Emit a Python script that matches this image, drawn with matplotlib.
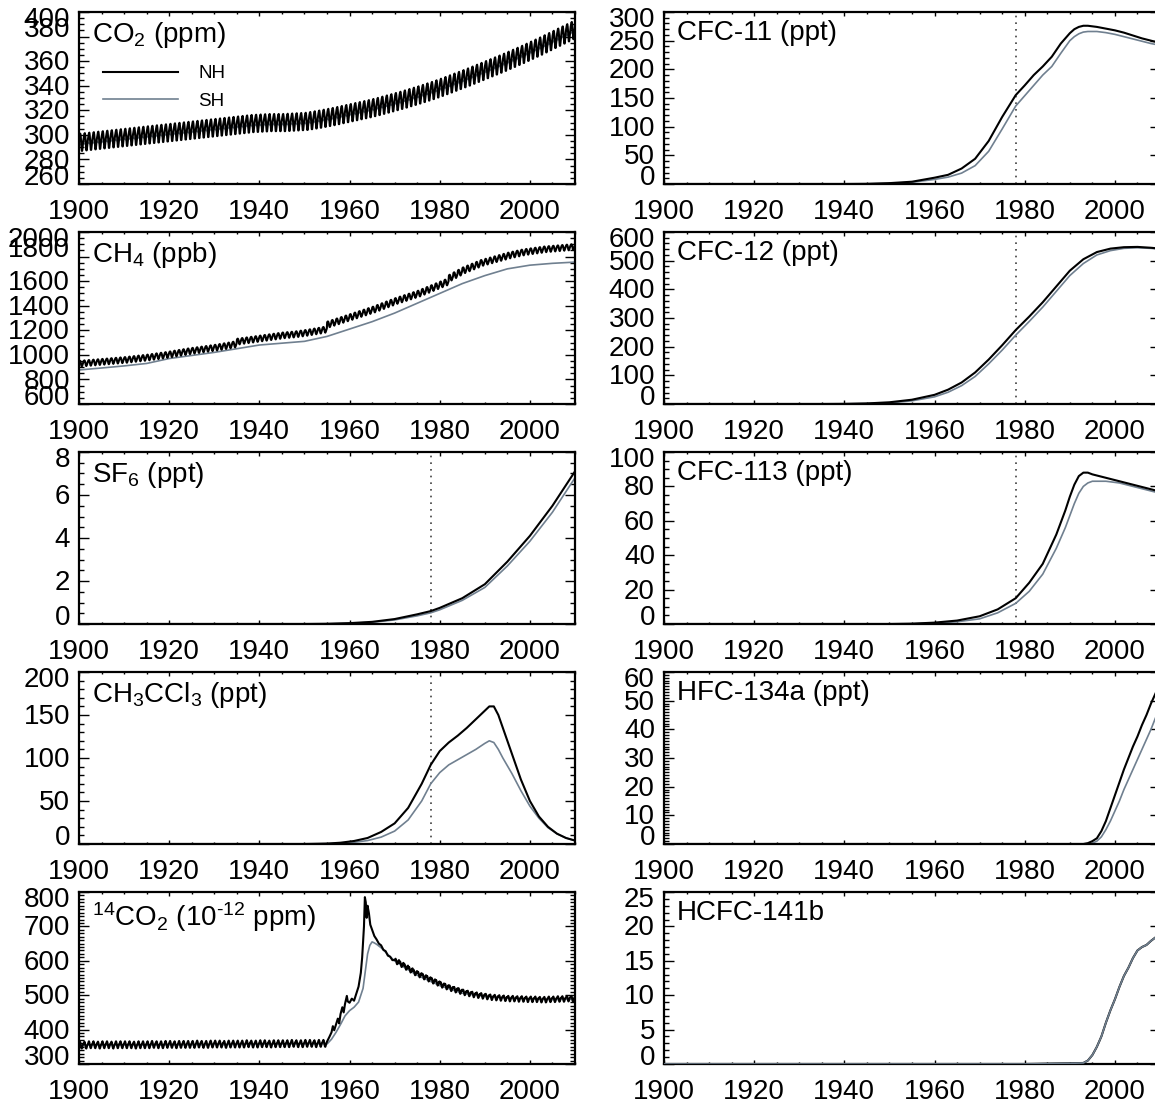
import numpy as np
import matplotlib
matplotlib.use('Agg')
import matplotlib.pyplot as plt
from matplotlib.ticker import MultipleLocator
from matplotlib.transforms import offset_copy

plt.rcParams['font.family'] = ['Liberation Sans', 'DejaVu Sans']
plt.rcParams['mathtext.fontset'] = 'custom'
plt.rcParams['mathtext.rm'] = 'Liberation Sans'
plt.rcParams['mathtext.it'] = 'Liberation Sans:italic'
plt.rcParams['mathtext.bf'] = 'Liberation Sans:bold'
plt.rcParams['mathtext.default'] = 'regular'

NH_COLOR = 'black'
SH_COLOR = '#708090'

# ---------------- data ----------------
# CO2 (ppm): NH annual means 1900-2010 + monthly seasonal anomaly
co2_first_year = 1900
co2_nh_annual = [
    294.0, 294.4, 294.8, 295.2, 295.6, 296.0, 296.4, 296.8, 297.2, 297.6,
    298.0, 298.4, 298.8, 299.2, 299.6, 300.0, 300.4, 300.8, 301.2, 301.6,
    302.0, 302.4, 302.8, 303.2, 303.6, 304.0, 304.4, 304.8, 305.2, 305.6,
    306.0, 306.4, 306.8, 307.2, 307.6, 308.0, 308.4, 308.8, 309.2, 309.4,
    309.6, 309.8, 310.0, 310.0, 310.0, 310.0, 310.2, 310.4, 310.6, 310.8,
    311.0, 311.6, 312.2, 312.8, 313.5, 314.2, 314.9, 315.7, 316.5, 317.3,
    318.1, 318.9, 319.7, 320.5, 321.3, 322.2, 323.1, 324.1, 325.1, 326.1,
    327.1, 328.1, 329.2, 330.3, 331.4, 332.5, 333.7, 334.9, 336.1, 337.4,
    338.7, 340.1, 341.5, 342.9, 344.3, 345.7, 347.1, 348.6, 350.1, 351.6,
    353.1, 354.6, 356.1, 357.6, 359.1, 360.7, 362.3, 363.9, 365.5, 367.2,
    368.9, 370.6, 372.3, 374.1, 375.9, 377.7, 379.5, 381.3, 383.1, 384.9, 386.7]
co2_nh_cycle = [3.0, 5.0, 6.5, 7.0, 5.0, 1.0, -4.0, -7.0, -7.0, -4.0, -1.0, 1.5]
co2_sh_annual = [v - 1.5 for v in co2_nh_annual]
co2_sh_cycle = [0.5, 0.3, 0.0, -0.3, -0.5, -0.6, -0.5, -0.3, 0.0, 0.3, 0.5, 0.6]

# CH4 (ppb)
ch4_first_year = 1900
ch4_nh_annual = [
    930, 933, 936, 939, 942, 945, 948, 951, 954, 957,
    960, 964, 968, 972, 976, 980, 985, 990, 995, 1000,
    1006, 1012, 1018, 1024, 1030, 1035, 1040, 1045, 1050, 1055,
    1060, 1066, 1072, 1078, 1085, 1110, 1115, 1120, 1125, 1130,
    1135, 1140, 1145, 1150, 1155, 1160, 1163, 1166, 1170, 1175,
    1180, 1186, 1192, 1198, 1205, 1250, 1262, 1274, 1286, 1298,
    1310, 1322, 1334, 1346, 1358, 1370, 1384, 1398, 1412, 1426,
    1440, 1452, 1464, 1476, 1488, 1500, 1515, 1530, 1545, 1560,
    1575, 1590, 1630, 1650, 1670, 1690, 1705, 1720, 1735, 1750,
    1760, 1770, 1780, 1790, 1800, 1810, 1818, 1826, 1834, 1840,
    1845, 1850, 1855, 1860, 1863, 1866, 1869, 1872, 1875, 1878, 1882]
ch4_nh_cycle = [15, 20, 22, 18, 8, -8, -20, -24, -18, -8, 2, 10]
ch4_sh_years = [1900, 1905, 1910, 1915, 1920, 1925, 1930, 1935, 1940, 1945, 1950, 1955,
                1960, 1965, 1970, 1975, 1980, 1985, 1990, 1995, 2000, 2005, 2010]
ch4_sh = [877, 893, 910, 930, 970, 995, 1020, 1050, 1080, 1095, 1110, 1150,
          1210, 1270, 1340, 1420, 1500, 1580, 1645, 1700, 1730, 1745, 1755]

# SF6 (ppt)
sf6_years = [1900, 1950, 1955, 1960, 1965, 1970, 1975, 1978, 1980, 1985, 1990, 1995, 2000, 2005, 2010]
sf6_nh = [0, 0, 0.01, 0.04, 0.1, 0.23, 0.45, 0.6, 0.75, 1.2, 1.85, 2.9, 4.1, 5.5, 7.1]
sf6_sh = [0, 0, 0.005, 0.03, 0.08, 0.19, 0.38, 0.52, 0.66, 1.1, 1.7, 2.7, 3.85, 5.2, 6.8]

# CH3CCl3 (ppt)
mc_years = [1900, 1950, 1955, 1958, 1961, 1964, 1967, 1970, 1973, 1976, 1978, 1980, 1982,
            1984, 1986, 1988, 1990, 1991, 1992, 1993, 1994, 1996, 1998, 2000, 2002, 2004,
            2006, 2008, 2010]
mc_nh = [0, 0, 0.5, 1.5, 3.5, 7, 14, 24, 42, 70, 92, 108, 118, 126, 135, 145, 155, 160,
         160, 150, 135, 105, 75, 50, 32, 20, 12, 7, 4]
mc_sh = [0, 0, 0.3, 0.8, 2, 4, 8, 15, 28, 50, 70, 83, 92, 98, 104, 110, 117, 120, 118,
         110, 100, 82, 62, 44, 30, 19, 12, 7, 4]

# 14CO2 (1e-12 ppm)
c14_first_year = 1900
c14_pre_annual = [
    355, 355, 356, 356, 355, 356, 356, 355, 356, 356,
    356, 356, 355, 356, 356, 356, 357, 356, 356, 357,
    357, 356, 357, 357, 357, 357, 358, 357, 357, 358,
    358, 358, 357, 358, 358, 358, 358, 359, 358, 358,
    359, 359, 358, 359, 359, 359, 359, 360, 359, 359,
    360, 360, 359, 360, 360]
c14_pre_cycle = [4, 8, 10, 7, 2, -4, -9, -10, -7, -2, 1, 3]
c14_sh_pre_cycle = [1, 2, 2, 1, 0, -1, -2, -2, -1, 0, 1, 1]
c14_nh_bomb_t = [1955.0, 1955.5, 1956.0, 1956.3, 1956.6, 1957.0, 1957.4, 1957.7, 1958.0,
                 1958.4, 1958.7, 1959.0, 1959.4, 1959.6, 1960.0, 1960.5, 1961.0, 1961.5,
                 1962.0, 1962.5, 1962.8, 1963.2, 1963.4, 1963.6, 1963.8, 1964.0, 1964.3,
                 1964.6, 1965.0, 1965.5, 1966.0, 1966.5, 1967.0, 1967.5, 1968.0, 1968.5,
                 1969.0, 1969.5]
c14_nh_bomb_v = [365, 378, 392, 410, 398, 415, 432, 418, 445, 465, 450, 475, 498, 482,
                 478, 490, 484, 505, 525, 565, 610, 700, 785, 770, 725, 760, 738, 705,
                 690, 672, 662, 650, 645, 632, 628, 615, 612, 602]
c14_post_first_year = 1970
c14_post_annual = [598, 590, 582, 574, 566, 560, 554, 548, 542, 536,
                   530, 525, 520, 516, 512, 508, 505, 502, 500, 498,
                   496, 494, 493, 492, 491, 490, 490, 489, 489, 488,
                   488, 488, 487, 487, 488, 488, 489, 489, 490, 490, 490]
c14_post_cycle = [4, 7, 8, 5, 0, -5, -8, -7, -3, 1, 3, 4]
c14_sh_t = [1955, 1956, 1957, 1958, 1959, 1960, 1961, 1962, 1963, 1963.5, 1964, 1964.5,
            1965, 1965.5, 1966, 1967, 1968, 1969, 1970, 1972, 1975, 1980, 1985, 1990,
            1995, 2000, 2005, 2010]
c14_sh_v = [358, 372, 392, 415, 440, 455, 465, 480, 520, 570, 620, 645, 655, 652, 648,
            638, 625, 612, 600, 582, 558, 528, 506, 496, 491, 489, 487, 489]

# CFC-11 (ppt)
cfc11_years = [1900, 1940, 1945, 1950, 1955, 1960, 1963, 1966, 1969, 1972, 1975, 1978,
               1980, 1982, 1984, 1986, 1988, 1990, 1991, 1992, 1993, 1994, 1996, 1998,
               2000, 2002, 2004, 2006, 2008, 2010]
cfc11_nh = [0, 0, 0.3, 1.5, 4, 11, 16, 27, 44, 75, 117, 155, 172, 190, 205, 222, 245,
            263, 270, 274, 276, 276, 274, 271, 268, 264, 259, 254, 250, 246]
cfc11_sh = [0, 0, 0.2, 1, 3, 8, 12, 19, 32, 57, 96, 136, 154, 172, 190, 205, 228, 250,
            257, 262, 265, 266, 266, 264, 261, 257, 253, 249, 245, 242]

# CFC-12 (ppt)
cfc12_years = [1900, 1935, 1940, 1945, 1950, 1955, 1960, 1963, 1966, 1969, 1972, 1975,
               1978, 1981, 1984, 1987, 1990, 1993, 1996, 1999, 2002, 2005, 2008, 2010]
cfc12_nh = [0, 0, 0.5, 2, 6, 15, 32, 50, 75, 110, 155, 205, 258, 305, 355, 410, 465,
            505, 530, 542, 547, 548, 545, 542]
cfc12_sh = [0, 0, 0.3, 1.5, 4, 11, 25, 41, 64, 96, 140, 188, 240, 288, 338, 393, 448,
            490, 520, 535, 543, 545, 543, 540]

# CFC-113 (ppt)
cfc113_years = [1900, 1950, 1955, 1960, 1965, 1970, 1974, 1978, 1981, 1984, 1987, 1989,
                1990, 1991, 1992, 1993, 1994, 1995, 1998, 2001, 2004, 2007, 2010]
cfc113_nh = [0, 0, 0.2, 0.8, 2, 4.5, 8.5, 15, 24, 35, 52, 66, 74, 81, 86, 88, 88, 87,
             85, 83, 81, 79, 77]
cfc113_sh = [0, 0, 0.1, 0.5, 1.3, 3, 6.5, 12, 19, 29, 44, 56, 63, 70, 76, 80, 82, 83,
             83, 82, 80, 78, 76]

# HFC-134a (ppt)
hfc_years = [1900, 1990, 1993, 1994, 1995, 1996, 1997, 1998, 1999, 2000, 2001, 2002,
             2003, 2004, 2005, 2006, 2007, 2008, 2009, 2010]
hfc_nh = [0, 0, 0, 0.3, 1, 2, 4.5, 8, 12.5, 17, 21.5, 26, 30, 34, 37.5, 41.5, 45, 49, 52.5, 56]
hfc_sh = [0, 0, 0, 0, 0.3, 1, 2.5, 5, 8, 11.5, 15, 19, 22.5, 26, 29.5, 33, 36.5, 40, 44, 47]

# HCFC-141b (ppt)
hcfc_years = [1900, 1980, 1985, 1990, 1993, 1994, 1995, 1996, 1997, 1998, 1999, 2000,
              2001, 2002, 2003, 2004, 2005, 2006, 2007, 2008, 2009, 2010]
hcfc_sh = [0, 0, 0.05, 0.1, 0.15, 0.5, 1.3, 2.5, 4, 6, 7.8, 9.4, 11.2, 12.8, 14.0, 15.4,
           16.5, 17.0, 17.3, 17.9, 18.4, 18.8]
hcfc_nh = list(hcfc_sh)


def monthly(first_year, annual, cycle):
    annual = np.asarray(annual, float)
    n = len(annual)
    t = first_year + np.arange(n * 12) / 12.0 + 1.0 / 24.0
    v = np.repeat(annual, 12) + np.tile(np.asarray(cycle, float), n)
    return t, v


co2_nh_t, co2_nh_v = monthly(co2_first_year, co2_nh_annual, co2_nh_cycle)
co2_sh_t, co2_sh_v = monthly(co2_first_year, co2_sh_annual, co2_sh_cycle)
ch4_nh_t, ch4_nh_v = monthly(ch4_first_year, ch4_nh_annual, ch4_nh_cycle)

t_a, v_a = monthly(c14_first_year, c14_pre_annual, c14_pre_cycle)
t_c, v_c = monthly(c14_post_first_year, c14_post_annual, c14_post_cycle)
c14_nh_t = np.concatenate([t_a, c14_nh_bomb_t, t_c])
c14_nh_v = np.concatenate([v_a, c14_nh_bomb_v, v_c])
t_s, v_s = monthly(c14_first_year, [v - 2 for v in c14_pre_annual], c14_sh_pre_cycle)
c14_sh_tt = np.concatenate([t_s, c14_sh_t])
c14_sh_vv = np.concatenate([v_s, c14_sh_v])

panels = [
    dict(col=0, row=0, title=r'CO$_2$ (ppm)', ylim=(260, 400), major=20, minor=5,
         nh=(co2_nh_t, co2_nh_v), sh=(co2_sh_t, co2_sh_v), dotted=False, legend=True,
         shift2=True),
    dict(col=0, row=1, title=r'CH$_4$ (ppb)', ylim=(600, 2000), major=200, minor=50,
         nh=(ch4_nh_t, ch4_nh_v), sh=(ch4_sh_years, ch4_sh), dotted=False, shift2=True),
    dict(col=0, row=2, title=r'SF$_6$ (ppt)', ylim=(0, 8), major=2, minor=0.5,
         nh=(sf6_years, sf6_nh), sh=(sf6_years, sf6_sh), dotted=True),
    dict(col=0, row=3, title=r'CH$_3$CCl$_3$ (ppt)', ylim=(0, 200), major=50, minor=10,
         nh=(mc_years, mc_nh), sh=(mc_years, mc_sh), dotted=True),
    dict(col=0, row=4, title=r'$^{14}$CO$_2$ (10$^{\text{-12}}$ ppm)', ylim=(300, 800),
         major=100, minor=10, nh=(c14_nh_t, c14_nh_v), sh=(c14_sh_tt, c14_sh_vv),
         dotted=False),
    dict(col=1, row=0, title='CFC-11 (ppt)', ylim=(0, 300), major=50, minor=10,
         nh=(cfc11_years, cfc11_nh), sh=(cfc11_years, cfc11_sh), dotted=True),
    dict(col=1, row=1, title='CFC-12 (ppt)', ylim=(0, 600), major=100, minor=20,
         nh=(cfc12_years, cfc12_nh), sh=(cfc12_years, cfc12_sh), dotted=True),
    dict(col=1, row=2, title='CFC-113 (ppt)', ylim=(0, 100), major=20, minor=5,
         nh=(cfc113_years, cfc113_nh), sh=(cfc113_years, cfc113_sh), dotted=True),
    dict(col=1, row=3, title='HFC-134a (ppt)', ylim=(0, 60), major=10, minor=1,
         nh=(hfc_years, hfc_nh), sh=(hfc_years, hfc_sh), dotted=False),
    dict(col=1, row=4, title='HCFC-141b', ylim=(0, 25), major=5, minor=1,
         nh=(hcfc_years, hcfc_nh), sh=(hcfc_years, hcfc_sh), dotted=False, sh_top=True),
]

# ---------------- layout ----------------
W, H = 1155, 1103
fig = plt.figure(figsize=(W / 100, H / 100), dpi=100)
col_left = [79, 664]
row_top = [12, 232, 452, 672, 892]
ax_w, ax_h = 496, 172
TICK_FS = 20

for p in panels:
    L = col_left[p['col']]
    T = row_top[p['row']]
    ax = fig.add_axes([L / W, 1 - (T + ax_h) / H, ax_w / W, ax_h / H])
    ax.set_xlim(1900, 2010)
    ax.set_ylim(*p['ylim'])
    for s in ax.spines.values():
        s.set_linewidth(1.6)
    ax.xaxis.set_major_locator(MultipleLocator(20))
    ax.xaxis.set_minor_locator(MultipleLocator(5))
    ax.yaxis.set_major_locator(MultipleLocator(p['major']))
    ax.yaxis.set_minor_locator(MultipleLocator(p['minor']))
    ax.tick_params(which='both', direction='in', top=True, right=True, width=1.0,
                   labelsize=TICK_FS)
    ax.tick_params(axis='y', which='major', length=7)
    ax.tick_params(axis='y', which='minor', length=3.5)
    ax.tick_params(axis='x', which='major', length=3, pad=11)
    ax.tick_params(axis='x', which='minor', length=1.5)
    ax.tick_params(axis='y', labelleft=False)

    # y tick labels as text (end labels nudged inward as in the original)
    lo, hi = p['ylim']
    ticks = np.arange(lo, hi + p['major'] * 0.01, p['major'])
    for i, tv in enumerate(ticks):
        dy = -1.5
        if i == 0:
            dy += 6
        if i == len(ticks) - 1:
            dy -= 4.5
        if p.get('shift2') and i == len(ticks) - 2:
            dy += 6.5
        tr = offset_copy(ax.get_yaxis_transform(), fig=fig, x=-6.5, y=dy, units='points')
        lab = ('%g' % tv)
        ax.text(0, tv, lab, transform=tr, ha='right', va='center', fontsize=TICK_FS,
                clip_on=False)

    if p['dotted']:
        ax.axvline(1978, color='#404040', lw=1.2, ls=(0, (1, 3)), zorder=1)

    sh_z = 4 if p.get('sh_top') else 2
    ax.plot(p['sh'][0], p['sh'][1], color=SH_COLOR, lw=1.2, zorder=sh_z, label='SH')
    ax.plot(p['nh'][0], p['nh'][1], color=NH_COLOR, lw=1.5, zorder=3, label='NH')

    ax.annotate(p['title'], xy=(0, 1), xycoords='axes fraction', xytext=(9.5, -6),
                textcoords='offset points', ha='left', va='top', fontsize=20)

    if p.get('legend'):
        h, l = ax.get_legend_handles_labels()
        ax.legend(h[::-1], l[::-1], loc='upper left', bbox_to_anchor=(0.048, 0.69),
                  frameon=False, fontsize=13.5, handlelength=4.0, handletextpad=1.1,
                  labelspacing=0.55, borderaxespad=0, borderpad=0)

fig.savefig('out.png', dpi=100)
